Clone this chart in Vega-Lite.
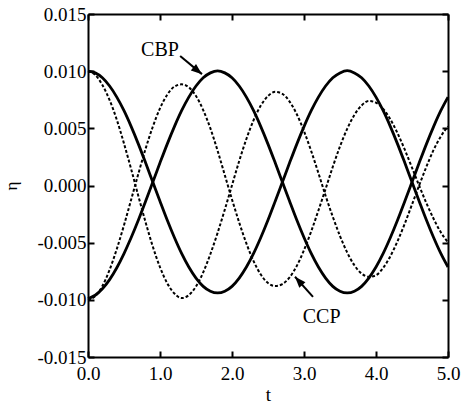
{
"$schema": "https://vega.github.io/schema/vega-lite/v6.json",
"autosize": "none",
"padding": {"left": 88, "top": 14, "right": 15, "bottom": 46},
"width": 360,
"height": 343,
"background": "white",
"config": {
  "view": {"stroke": null},
  "axis": {"grid": false, "domainColor": "black", "domainWidth": 2, "tickColor": "black", "tickWidth": 2, "labelFont": "Liberation Serif", "labelFontSize": 19, "labelColor": "black", "titleFont": "Liberation Serif", "titleFontWeight": "normal", "titleColor": "black", "titleFontSize": 19, "labelFlush": false}
},
"datasets": {
  "curves": [
{"s":"A","t":0,"y":0.01},{"s":"A","t":0.1,"y":0.00985},{"s":"A","t":0.2,"y":0.00942},{"s":"A","t":0.3,"y":0.0087},{"s":"A","t":0.4,"y":0.00773},{"s":"A","t":0.5,"y":0.00654},{"s":"A","t":0.6,"y":0.00515},{"s":"A","t":0.7,"y":0.00362},{"s":"A","t":0.8,"y":0.00198},{"s":"A","t":0.9,"y":0.0003},
{"s":"A","t":1.0,"y":-0.00138},{"s":"A","t":1.1,"y":-0.00302},{"s":"A","t":1.2,"y":-0.00455},{"s":"A","t":1.3,"y":-0.00594},{"s":"A","t":1.4,"y":-0.00713},{"s":"A","t":1.5,"y":-0.0081},{"s":"A","t":1.6,"y":-0.00882},{"s":"A","t":1.7,"y":-0.00925},{"s":"A","t":1.8,"y":-0.0094},{"s":"A","t":1.9,"y":-0.00925},
{"s":"A","t":2.0,"y":-0.00882},{"s":"A","t":2.1,"y":-0.0081},{"s":"A","t":2.2,"y":-0.00713},{"s":"A","t":2.3,"y":-0.00594},{"s":"A","t":2.4,"y":-0.00455},{"s":"A","t":2.5,"y":-0.00302},{"s":"A","t":2.6,"y":-0.00138},{"s":"A","t":2.7,"y":0.0003},{"s":"A","t":2.8,"y":0.00198},{"s":"A","t":2.9,"y":0.00362},
{"s":"A","t":3.0,"y":0.00515},{"s":"A","t":3.1,"y":0.00654},{"s":"A","t":3.2,"y":0.00773},{"s":"A","t":3.3,"y":0.0087},{"s":"A","t":3.4,"y":0.00942},{"s":"A","t":3.5,"y":0.00985},{"s":"A","t":3.6,"y":0.01005},{"s":"A","t":3.7,"y":0.00985},{"s":"A","t":3.8,"y":0.00942},{"s":"A","t":3.9,"y":0.0087},
{"s":"A","t":4.0,"y":0.00773},{"s":"A","t":4.1,"y":0.00654},{"s":"A","t":4.2,"y":0.00515},{"s":"A","t":4.3,"y":0.00362},{"s":"A","t":4.4,"y":0.00198},{"s":"A","t":4.5,"y":0.0003},{"s":"A","t":4.6,"y":-0.00138},{"s":"A","t":4.7,"y":-0.00302},{"s":"A","t":4.8,"y":-0.00455},{"s":"A","t":4.9,"y":-0.00594},{"s":"A","t":5.0,"y":-0.00713},
{"s":"B","t":0,"y":-0.0099},{"s":"B","t":0.1,"y":-0.0096},{"s":"B","t":0.2,"y":-0.00903},{"s":"B","t":0.3,"y":-0.00823},{"s":"B","t":0.4,"y":-0.00719},{"s":"B","t":0.5,"y":-0.00595},{"s":"B","t":0.6,"y":-0.00455},{"s":"B","t":0.7,"y":-0.00302},{"s":"B","t":0.8,"y":-0.00138},{"s":"B","t":0.9,"y":0.0003},
{"s":"B","t":1.0,"y":0.00198},{"s":"B","t":1.1,"y":0.00362},{"s":"B","t":1.2,"y":0.00515},{"s":"B","t":1.3,"y":0.00654},{"s":"B","t":1.4,"y":0.00773},{"s":"B","t":1.5,"y":0.0087},{"s":"B","t":1.6,"y":0.00942},{"s":"B","t":1.7,"y":0.00985},{"s":"B","t":1.8,"y":0.01003},{"s":"B","t":1.9,"y":0.00985},
{"s":"B","t":2.0,"y":0.00942},{"s":"B","t":2.1,"y":0.0087},{"s":"B","t":2.2,"y":0.00773},{"s":"B","t":2.3,"y":0.00654},{"s":"B","t":2.4,"y":0.00515},{"s":"B","t":2.5,"y":0.00362},{"s":"B","t":2.6,"y":0.00198},{"s":"B","t":2.7,"y":0.0003},{"s":"B","t":2.8,"y":-0.00138},{"s":"B","t":2.9,"y":-0.00302},
{"s":"B","t":3.0,"y":-0.00455},{"s":"B","t":3.1,"y":-0.00594},{"s":"B","t":3.2,"y":-0.00713},{"s":"B","t":3.3,"y":-0.0081},{"s":"B","t":3.4,"y":-0.00882},{"s":"B","t":3.5,"y":-0.00925},{"s":"B","t":3.6,"y":-0.0094},{"s":"B","t":3.7,"y":-0.00925},{"s":"B","t":3.8,"y":-0.00882},{"s":"B","t":3.9,"y":-0.0081},
{"s":"B","t":4.0,"y":-0.00713},{"s":"B","t":4.1,"y":-0.00594},{"s":"B","t":4.2,"y":-0.00455},{"s":"B","t":4.3,"y":-0.00302},{"s":"B","t":4.4,"y":-0.00138},{"s":"B","t":4.5,"y":0.0003},{"s":"B","t":4.6,"y":0.00198},{"s":"B","t":4.7,"y":0.00362},{"s":"B","t":4.8,"y":0.00515},{"s":"B","t":4.9,"y":0.00654},{"s":"B","t":5.0,"y":0.00773},
{"s":"C","t":0,"y":0.01},{"s":"C","t":0.1,"y":0.00967},{"s":"C","t":0.2,"y":0.00879},{"s":"C","t":0.3,"y":0.00747},{"s":"C","t":0.4,"y":0.00575},{"s":"C","t":0.5,"y":0.00367},{"s":"C","t":0.6,"y":0.00142},{"s":"C","t":0.7,"y":-0.00094},{"s":"C","t":0.8,"y":-0.00322},{"s":"C","t":0.9,"y":-0.00534},
{"s":"C","t":1.0,"y":-0.00715},{"s":"C","t":1.1,"y":-0.00854},{"s":"C","t":1.2,"y":-0.00945},{"s":"C","t":1.3,"y":-0.00985},{"s":"C","t":1.4,"y":-0.00959},{"s":"C","t":1.5,"y":-0.00883},{"s":"C","t":1.6,"y":-0.0076},{"s":"C","t":1.7,"y":-0.00599},{"s":"C","t":1.8,"y":-0.00414},{"s":"C","t":1.9,"y":-0.00211},
{"s":"C","t":2.0,"y":0.00002},{"s":"C","t":2.1,"y":0.00214},{"s":"C","t":2.2,"y":0.00407},{"s":"C","t":2.3,"y":0.00572},{"s":"C","t":2.4,"y":0.00699},{"s":"C","t":2.5,"y":0.00783},{"s":"C","t":2.6,"y":0.00819},{"s":"C","t":2.7,"y":0.00802},{"s":"C","t":2.8,"y":0.00734},{"s":"C","t":2.9,"y":0.00623},
{"s":"C","t":3.0,"y":0.00475},{"s":"C","t":3.1,"y":0.00301},{"s":"C","t":3.2,"y":0.00109},{"s":"C","t":3.3,"y":-0.0009},{"s":"C","t":3.4,"y":-0.00274},{"s":"C","t":3.5,"y":-0.00442},{"s":"C","t":3.6,"y":-0.00586},{"s":"C","t":3.7,"y":-0.00698},{"s":"C","t":3.8,"y":-0.0077},{"s":"C","t":3.9,"y":-0.00799},
{"s":"C","t":4.0,"y":-0.00785},{"s":"C","t":4.1,"y":-0.0072},{"s":"C","t":4.2,"y":-0.00618},{"s":"C","t":4.3,"y":-0.00486},{"s":"C","t":4.4,"y":-0.00333},{"s":"C","t":4.5,"y":-0.00166},{"s":"C","t":4.6,"y":0.00002},{"s":"C","t":4.7,"y":0.00164},{"s":"C","t":4.8,"y":0.00311},{"s":"C","t":4.9,"y":0.00429},{"s":"C","t":5.0,"y":0.00518},
{"s":"D","t":0,"y":-0.01},{"s":"D","t":0.1,"y":-0.00967},{"s":"D","t":0.2,"y":-0.00879},{"s":"D","t":0.3,"y":-0.00737},{"s":"D","t":0.4,"y":-0.00555},{"s":"D","t":0.5,"y":-0.00347},{"s":"D","t":0.6,"y":-0.00122},{"s":"D","t":0.7,"y":0.00104},{"s":"D","t":0.8,"y":0.00322},{"s":"D","t":0.9,"y":0.00514},
{"s":"D","t":1.0,"y":0.00675},{"s":"D","t":1.1,"y":0.00794},{"s":"D","t":1.2,"y":0.00865},{"s":"D","t":1.3,"y":0.00885},{"s":"D","t":1.4,"y":0.00859},{"s":"D","t":1.5,"y":0.00783},{"s":"D","t":1.6,"y":0.0066},{"s":"D","t":1.7,"y":0.00499},{"s":"D","t":1.8,"y":0.00304},{"s":"D","t":1.9,"y":0.00091},
{"s":"D","t":2.0,"y":-0.00122},{"s":"D","t":2.1,"y":-0.00324},{"s":"D","t":2.2,"y":-0.00507},{"s":"D","t":2.3,"y":-0.00662},{"s":"D","t":2.4,"y":-0.00779},{"s":"D","t":2.5,"y":-0.00853},{"s":"D","t":2.6,"y":-0.00879},{"s":"D","t":2.7,"y":-0.00862},{"s":"D","t":2.8,"y":-0.00804},{"s":"D","t":2.9,"y":-0.00703},
{"s":"D","t":3.0,"y":-0.00565},{"s":"D","t":3.1,"y":-0.00401},{"s":"D","t":3.2,"y":-0.00219},{"s":"D","t":3.3,"y":-0.0003},{"s":"D","t":3.4,"y":0.00164},{"s":"D","t":3.5,"y":0.00342},{"s":"D","t":3.6,"y":0.00496},{"s":"D","t":3.7,"y":0.00618},{"s":"D","t":3.8,"y":0.007},{"s":"D","t":3.9,"y":0.00739},
{"s":"D","t":4.0,"y":0.00725},{"s":"D","t":4.1,"y":0.0067},{"s":"D","t":4.2,"y":0.00578},{"s":"D","t":4.3,"y":0.00456},{"s":"D","t":4.4,"y":0.00313},{"s":"D","t":4.5,"y":0.00156},{"s":"D","t":4.6,"y":-0.00002},{"s":"D","t":4.7,"y":-0.00154},{"s":"D","t":4.8,"y":-0.00291},{"s":"D","t":4.9,"y":-0.00409},{"s":"D","t":5.0,"y":-0.00498}
  ],
  "labels": [
    {"label": "CBP", "t": 1.0, "y": 0.01132},
    {"label": "CCP", "t": 3.245, "y": -0.01202}
  ],
  "arrows": [
    {"label": "CBP", "t": 1.28, "y": 0.01132, "t2": 1.583, "y2": 0.00974},
    {"label": "CCP", "t": 3.125, "y": -0.00974, "t2": 2.875, "y2": -0.00798}
  ]
},
"layer": [
  {
    "data": {"name": "curves"},
    "transform": [{"filter": {"field": "s", "oneOf": ["A", "B"]}}],
    "mark": {"type": "line", "color": "black", "strokeWidth": 2.8, "interpolate": "monotone"},
    "encoding": {
      "x": {"field": "t", "type": "quantitative", "scale": {"domain": [0, 5], "nice": false, "zero": false},
            "axis": {"orient": "bottom", "values": [0, 1, 2, 3, 4, 5], "format": ".1f", "title": "t", "tickSize": -6, "labelPadding": 13, "titleX": 180, "titleY": 43, "titleBaseline": "alphabetic", "titleAlign": "center"}},
      "y": {"field": "y", "type": "quantitative", "scale": {"domain": [-0.015, 0.015], "nice": false, "zero": false},
            "axis": {"orient": "left", "values": [-0.015, -0.01, -0.005, 0, 0.005, 0.01, 0.015], "labelExpr": "(datum.value < 0 ? '-' : '') + format(abs(datum.value), '.3f')", "title": "η", "tickSize": -6, "labelPadding": 8, "titleX": -72, "titleY": 171.5, "titleAngle": -90, "titleAlign": "center", "titleBaseline": "alphabetic", "titleFontSize": 17}},
      "detail": {"field": "s"}
    }
  },
  {
    "data": {"name": "curves"},
    "transform": [{"filter": {"field": "s", "oneOf": ["C", "D"]}}],
    "mark": {"type": "line", "color": "black", "strokeWidth": 2, "strokeDash": [3, 2], "interpolate": "monotone"},
    "encoding": {
      "x": {"field": "t", "type": "quantitative", "axis": {"orient": "top", "values": [0, 1, 2, 3, 4, 5], "labels": false, "title": null, "tickSize": -6}},
      "y": {"field": "y", "type": "quantitative", "axis": {"orient": "right", "values": [-0.015, -0.01, -0.005, 0, 0.005, 0.01, 0.015], "labels": false, "title": null, "tickSize": -6}},
      "detail": {"field": "s"}
    }
  },
  {
    "data": {"name": "labels"},
    "mark": {"type": "text", "font": "Liberation Serif", "fontSize": 20, "align": "center", "baseline": "alphabetic", "color": "black"},
    "encoding": {
      "x": {"field": "t", "type": "quantitative", "axis": null},
      "y": {"field": "y", "type": "quantitative", "axis": null},
      "text": {"field": "label"}
    }
  },
  {
    "data": {"name": "arrows"},
    "mark": {"type": "rule", "color": "black", "strokeWidth": 2},
    "encoding": {
      "x": {"field": "t", "type": "quantitative", "axis": null},
      "y": {"field": "y", "type": "quantitative", "axis": null},
      "x2": {"field": "t2"},
      "y2": {"field": "y2"}
    }
  },
  {
    "data": {"name": "arrows"},
    "transform": [{"filter": {"field": "label", "equal": "CBP"}}],
    "mark": {"type": "point", "shape": "M0,0L0.75,2L-0.75,2Z", "filled": true, "color": "black", "opacity": 1, "size": 121, "angle": 129},
    "encoding": {
      "x": {"field": "t2", "type": "quantitative", "axis": null},
      "y": {"field": "y2", "type": "quantitative", "axis": null}
    }
  },
  {
    "data": {"name": "arrows"},
    "transform": [{"filter": {"field": "label", "equal": "CCP"}}],
    "mark": {"type": "point", "shape": "M0,0L0.75,2L-0.75,2Z", "filled": true, "color": "black", "opacity": 1, "size": 121, "angle": 318},
    "encoding": {
      "x": {"field": "t2", "type": "quantitative", "axis": null},
      "y": {"field": "y2", "type": "quantitative", "axis": null}
    }
  }
],
"resolve": {"axis": {"x": "independent", "y": "independent"}}
}
